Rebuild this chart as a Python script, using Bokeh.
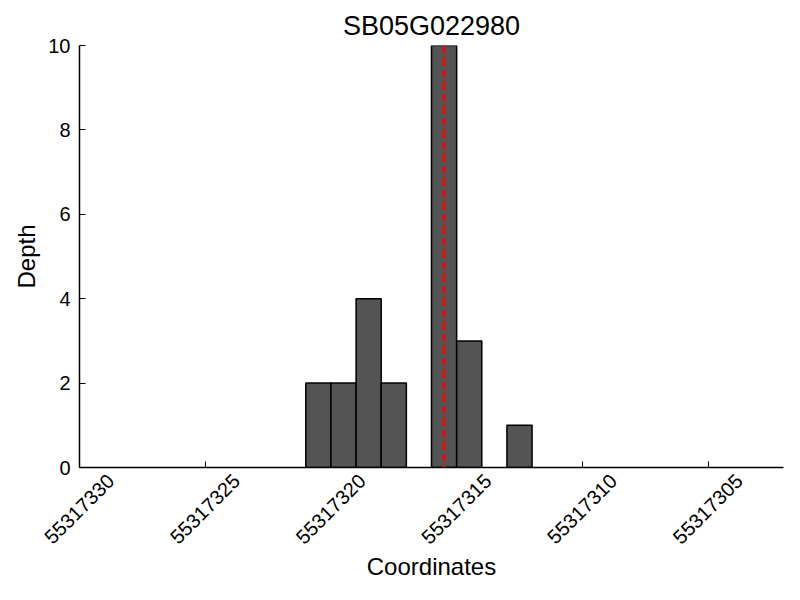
import math
from bokeh.plotting import figure
from bokeh.models import Range1d, Span, FixedTicker, BasicTickFormatter, ColumnDataSource, LinearAxis
from bokeh.embed import file_html
from bokeh.resources import INLINE

title_text = "SB05G022980"
positions = [55317320, 55317319, 55317318, 55317317, 55317315, 55317314, 55317312]
depths = [2, 2, 4, 2, 10, 3, 1]
x_ticks = [55317330, 55317325, 55317320, 55317315, 55317310, 55317305]
y_ticks = [0, 2, 4, 6, 8, 10]
marker_position = 55317315.5
x_start, x_end = 55317330, 55317302
y_start, y_end = 0, 10

FONT = "Liberation Sans"
LABEL_SHIFT = 1.24  # label range offset so rotated labels are centred under ticks

p = figure(width=784, height=584, output_backend="svg", toolbar_location=None,
           x_range=Range1d(x_start, x_end), y_range=Range1d(y_start, y_end),
           min_border_left=79, min_border_right=1, min_border_top=45, min_border_bottom=117)

src = ColumnDataSource(dict(left=positions, right=[v + 1 for v in positions],
                            top=depths, bottom=[0] * len(depths)))
p.quad(left="left", right="right", top="top", bottom="bottom", source=src,
       fill_color="#545454", line_color="black", line_width=1.5)

p.add_layout(Span(location=marker_position, dimension="height", line_color="red",
                  line_dash="8 4", line_width=2.5))

p.title.text = title_text
p.title.align = "center"
p.title.text_font = FONT
p.title.text_font_size = "27px"
p.title.text_font_style = "normal"
p.title.text_color = "black"

p.outline_line_color = None
p.grid.visible = False

p.xaxis.ticker = FixedTicker(ticks=x_ticks)
p.yaxis.ticker = FixedTicker(ticks=y_ticks)
p.yaxis.axis_label = "Depth"

for ax in (p.xaxis, p.yaxis):
    ax.axis_line_color = "black"
    ax.axis_line_width = 1.5
    ax.major_tick_in = 6
    ax.major_tick_out = 0
    ax.minor_tick_line_color = None
    ax.major_tick_line_color = "black"
    ax.major_label_text_font = FONT
    ax.major_label_text_font_size = "20px"
    ax.major_label_text_color = "black"
    ax.axis_label_text_font = FONT
    ax.axis_label_text_font_size = "24px"
    ax.axis_label_text_font_style = "normal"
    ax.axis_label_text_color = "black"

p.yaxis.major_label_standoff = 9
p.xaxis.major_label_text_alpha = 0

# label-only axis, on a range shifted so the rotated labels sit centred under the ticks
p.extra_x_ranges = {"labels": Range1d(x_start + LABEL_SHIFT, x_end + LABEL_SHIFT)}
lab_axis = LinearAxis(x_range_name="labels", ticker=FixedTicker(ticks=x_ticks),
                      formatter=BasicTickFormatter(use_scientific=False),
                      axis_line_color=None, major_tick_line_color=None,
                      minor_tick_line_color=None, major_tick_in=0, major_tick_out=0,
                      major_label_orientation=math.pi / 4, major_label_standoff=10,
                      major_label_text_font=FONT, major_label_text_font_size="20px",
                      major_label_text_color="black",
                      axis_label="Coordinates", axis_label_standoff=0,
                      axis_label_text_font=FONT, axis_label_text_font_size="24px",
                      axis_label_text_font_style="normal", axis_label_text_color="black")
p.add_layout(lab_axis, "below")

open("out.html", "w").write(file_html(p, INLINE))
